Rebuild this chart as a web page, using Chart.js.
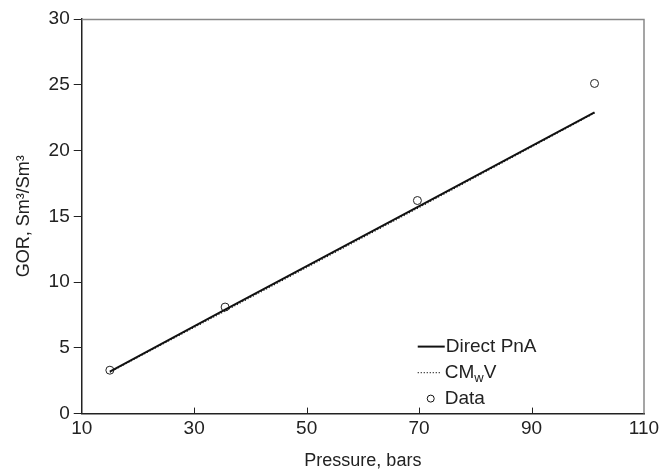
<!DOCTYPE html>
<html>
<head>
<meta charset="utf-8">
<script src="https://cdn.jsdelivr.net/npm/chart.js@4.4.1/dist/chart.umd.min.js"></script>
<style>
  html, body { margin: 0; padding: 0; background: #fff; }
  #wrap { width: 659px; height: 472px; }
</style>
</head>
<body>
<div id="wrap"><canvas id="gor"></canvas></div>
<script>
// pressure (bars) and GOR (Sm3/Sm3)
const pressure = [15, 35.5, 69.7, 101.2];
const gorData = [3.3, 8.1, 16.2, 25.1];
const gorPnA = [3.2, 7.9, 15.7, 22.9];
const gorCMwV = [3.15, 7.8, 15.6, 22.85];
const xTicks = [10, 30, 50, 70, 90, 110];
const yTicks = [0, 5, 10, 15, 20, 25, 30];

const toPoints = (xs, ys) => xs.map((x, i) => ({ x: x, y: ys[i] }));
const font = "'Liberation Sans', Arial, sans-serif";

// frame, inward x ticks and the legend inside the plot
const framePlugin = {
  id: 'frame',
  afterDraw(chart) {
    const ctx = chart.ctx;
    const a = chart.chartArea;
    const xs = chart.scales.x;
    ctx.save();
    ctx.strokeStyle = '#888';
    ctx.lineWidth = 1.5;
    ctx.beginPath();
    ctx.moveTo(a.left, a.top + 0.5);
    ctx.lineTo(a.right, a.top + 0.5);
    ctx.lineTo(a.right, a.bottom);
    ctx.stroke();

    ctx.strokeStyle = '#222';
    ctx.lineWidth = 1;
    xTicks.slice(1, -1).forEach(v => {
      const px = Math.round(xs.getPixelForValue(v)) + 0.5;
      ctx.beginPath();
      ctx.moveTo(px, a.bottom);
      ctx.lineTo(px, a.bottom - 6);
      ctx.stroke();
    });

    // legend
    const lx = a.left + 336;
    const ly = a.bottom - 67;
    ctx.fillStyle = '#222';
    ctx.font = '19px ' + font;
    ctx.textBaseline = 'middle';

    ctx.strokeStyle = '#111';
    ctx.lineWidth = 2;
    ctx.beginPath();
    ctx.moveTo(lx, ly);
    ctx.lineTo(lx + 27, ly);
    ctx.stroke();
    ctx.fillText('Direct PnA', lx + 28, ly);

    ctx.lineWidth = 1.2;
    ctx.setLineDash([1, 2]);
    ctx.beginPath();
    ctx.moveTo(lx, ly + 26);
    ctx.lineTo(lx + 23, ly + 26);
    ctx.stroke();
    ctx.setLineDash([]);
    ctx.fillText('CM', lx + 27, ly + 26);
    let w = ctx.measureText('CM').width;
    ctx.font = '13px ' + font;
    ctx.fillText('w', lx + 27 + w, ly + 32);
    w += ctx.measureText('w').width;
    ctx.font = '19px ' + font;
    ctx.fillText('V', lx + 27 + w, ly + 26);

    ctx.lineWidth = 1;
    ctx.beginPath();
    ctx.arc(lx + 13, ly + 52, 3.5, 0, Math.PI * 2);
    ctx.fillStyle = '#fff';
    ctx.fill();
    ctx.stroke();
    ctx.fillStyle = '#222';
    ctx.fillText('Data', lx + 27, ly + 52);
    ctx.restore();
  }
};

new Chart(document.getElementById('gor'), {
  type: 'scatter',
  data: {
    datasets: [
      {
        label: 'Direct PnA',
        data: toPoints(pressure, gorPnA),
        showLine: true,
        borderColor: '#111',
        borderWidth: 2,
        pointRadius: 0
      },
      {
        label: 'CMwV',
        data: toPoints(pressure, gorCMwV),
        showLine: true,
        borderColor: '#111',
        borderWidth: 1.2,
        borderDash: [1, 2],
        pointRadius: 0
      },
      {
        label: 'Data',
        data: toPoints(pressure, gorData),
        showLine: false,
        pointRadius: 4,
        pointBorderWidth: 1,
        pointBorderColor: '#222',
        pointBackgroundColor: '#fff'
      }
    ]
  },
  options: {
    responsive: true,
    maintainAspectRatio: false,
    animation: false,
    layout: { padding: { left: 13, right: 15, top: 19, bottom: 0 } },
    plugins: { legend: { display: false }, tooltip: { enabled: false } },
    scales: {
      x: {
        type: 'linear',
        min: 10,
        max: 110,
        afterBuildTicks: s => { s.ticks = xTicks.map(v => ({ value: v })); },
        afterFit: s => { s.paddingRight = 0; },
        grid: { display: false, drawTicks: false },
        border: { display: true, color: '#222', width: 1.5 },
        ticks: { color: '#222', font: { family: font, size: 19 }, padding: 4, maxRotation: 0 },
        title: { display: true, text: 'Pressure, bars', color: '#222', font: { family: font, size: 18 }, padding: { top: 6, bottom: 0 } }
      },
      y: {
        type: 'linear',
        min: 0,
        max: 30,
        afterBuildTicks: s => { s.ticks = yTicks.map(v => ({ value: v })); },
        grid: { drawOnChartArea: false, drawTicks: true, tickLength: 8, color: '#222' },
        border: { display: true, color: '#222', width: 1.5 },
        ticks: { color: '#222', font: { family: font, size: 19 }, padding: 4 },
        title: { display: true, text: 'GOR, Sm³/Sm³', color: '#222', font: { family: font, size: 18 }, padding: { top: 0, bottom: 10 } }
      }
    }
  },
  plugins: [framePlugin]
});
</script>
</body>
</html>
